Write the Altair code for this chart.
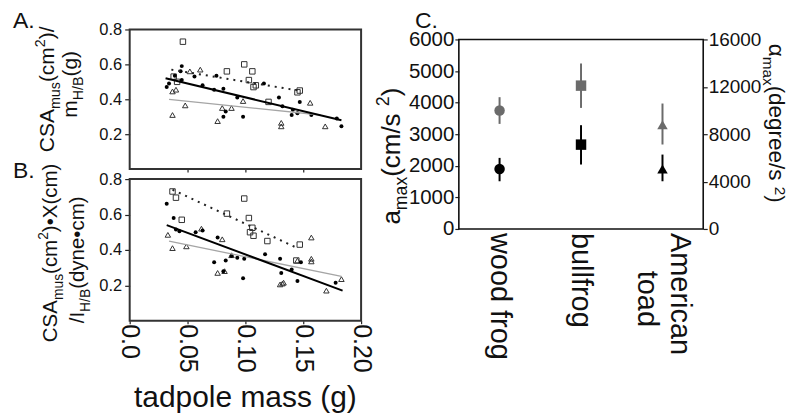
import altair as alt
import pandas as pd

FONT = "Liberation Sans"
INK = "#111111"
GRAY = "#6b6b6b"

# ---------------- Panel A : CSA_mus / m_H/B  vs tadpole mass ----------------
A_wood_x = [0.045, 0.044, 0.039, 0.032, 0.045, 0.056, 0.063, 0.075, 0.073, 0.081, 0.081, 0.083, 0.098,
            0.093, 0.116, 0.129, 0.132, 0.141, 0.147, 0.145, 0.179, 0.183, 0.157, 0.140, 0.034]
A_wood_y = [0.59, 0.56, 0.535, 0.47, 0.51, 0.53, 0.48, 0.535, 0.455, 0.46, 0.30, 0.33, 0.30,
            0.41, 0.49, 0.41, 0.36, 0.34, 0.385, 0.32, 0.29, 0.245, 0.31, 0.31, 0.49]
A_bull_x = [0.046, 0.038, 0.041, 0.084, 0.099, 0.106, 0.103, 0.107, 0.109, 0.120, 0.145, 0.147]
A_bull_y = [0.73, 0.53, 0.50, 0.56, 0.60, 0.56, 0.51, 0.47, 0.48, 0.385, 0.44, 0.45]
A_toad_x = [0.037, 0.048, 0.061, 0.080, 0.076, 0.088, 0.131, 0.131, 0.037, 0.040, 0.156, 0.169, 0.098, 0.052]
A_toad_y = [0.31, 0.365, 0.57, 0.35, 0.275, 0.35, 0.265, 0.245, 0.445, 0.455, 0.38, 0.245, 0.39, 0.56]
A_fit_wood = ([0.031, 0.183], [0.52, 0.28])
A_fit_bull = ([0.036, 0.146], [0.57, 0.45])
A_fit_toad = ([0.034, 0.165], [0.40, 0.31])

# ---------------- Panel B : CSA_mus*X / I_H/B  vs tadpole mass ----------------
B_wood_x = [0.032, 0.038, 0.040, 0.043, 0.057, 0.063, 0.076, 0.073, 0.083, 0.081, 0.088, 0.093, 0.099,
            0.098, 0.117, 0.130, 0.131, 0.140, 0.145, 0.148, 0.178]
B_wood_y = [0.66, 0.58, 0.515, 0.505, 0.50, 0.51, 0.47, 0.33, 0.34, 0.28, 0.365, 0.355, 0.35,
            0.24, 0.375, 0.35, 0.27, 0.29, 0.225, 0.33, 0.215]
B_bull_x = [0.037, 0.040, 0.099, 0.084, 0.103, 0.106, 0.107, 0.119, 0.147, 0.045, 0.144, 0.104]
B_bull_y = [0.73, 0.695, 0.69, 0.605, 0.58, 0.525, 0.48, 0.45, 0.43, 0.57, 0.34, 0.50]
B_toad_x = [0.033, 0.037, 0.049, 0.062, 0.080, 0.076, 0.082, 0.132, 0.133, 0.157, 0.157, 0.157, 0.170,
            0.183, 0.130, 0.088, 0.145]
B_toad_y = [0.485, 0.41, 0.42, 0.52, 0.46, 0.27, 0.28, 0.21, 0.215, 0.47, 0.35, 0.335, 0.17,
            0.235, 0.205, 0.37, 0.34]
B_fit_wood = ([0.032, 0.184], [0.54, 0.17])
B_fit_bull = ([0.037, 0.145], [0.74, 0.41])
B_fit_toad = ([0.034, 0.183], [0.45, 0.25])

mass_ticks = [0.0, 0.05, 0.10, 0.15, 0.20]
ratio_ticks = [0.2, 0.4, 0.6, 0.8]

# ---------------- Panel C : max accelerations ----------------
species = ["wood frog", "bullfrog", "American toad"]
label_line1 = ["wood frog", "bullfrog", "American"]
label_line2 = ["", "", "toad"]
a_max = [1900, 2670, 1900]
a_lo = [1510, 2040, 1510]
a_hi = [2250, 3285, 2355]
alpha_max = [10000, 12100, 8800]
alpha_lo = [8870, 10220, 7130]
alpha_hi = [11125, 13970, 10590]
a_ticks = [0, 1000, 2000, 3000, 4000, 5000, 6000]
alpha_ticks = [0, 4000, 8000, 12000, 16000]

# ---------------- helpers ----------------
W = {' ': .278, '(': .333, ')': .333, '/': .278, '.': .278, '\u2022': .35,
     'A': .667, 'B': .667, 'C': .722, 'H': .722, 'I': .278, 'S': .667, 'X': .667,
     'a': .556, 'c': .5, 'd': .556, 'e': .556, 'g': .556, 'm': .833, 'n': .556, 'r': .333,
     's': .5, 'u': .556, 'x': .5, 'y': .5, 'o': .556, 't': .278, '\u03b1': .578}


def tw(s, size):
    return sum(W.get(c, .556) for c in s) * size


ONE = alt.Data(values=[{}])


def rich(pieces, size, angle, x, y_center, sup=0.42):
    items, off = [], 0.0
    for text, kind in pieces:
        fs = size if kind == 'n' else round(size * 0.68, 1)
        shift = {'n': 0.0, 'sub': size * 0.28, 'sup': -size * sup}[kind]
        items.append((text, fs, off, shift))
        off += tw(text, fs)
    y0 = y_center + off / 2 if angle == 270 else y_center - off / 2
    return [alt.Chart(ONE).mark_text(text=t, font=FONT, fontSize=fs, angle=angle, align='left',
                                     baseline='alphabetic', dx=d, dy=s, color=INK)
            .encode(x=alt.value(x), y=alt.value(y0)) for t, fs, d, s in items]


def label(text, x, y, size, align='left'):
    return alt.Chart(ONE).mark_text(text=text, font=FONT, fontSize=size, align=align,
                                    baseline='alphabetic', color=INK).encode(x=alt.value(x), y=alt.value(y))


def frame(w, y0, y1, color, sw):
    return alt.Chart(ONE).mark_rect(fillOpacity=0, stroke=color, strokeWidth=sw).encode(
        x=alt.value(0), x2=alt.value(w), y=alt.value(y0), y2=alt.value(y1))


def scatter_panel(wx, wy, bx, by, tx, ty, fw, fb, ft, xaxis, height, extra):
    xs = alt.Scale(domain=[0, 0.2], nice=False, zero=False)
    ys = alt.Scale(domain=[0, 0.8], nice=False, zero=False)
    yaxis = alt.Axis(values=ratio_ticks, format='.1f', labelFontSize=16.5, tickSize=5, labelPadding=3,
                     title=None, domain=False, grid=False, labelFlush=False)
    X = alt.X('x:Q', scale=xs, axis=xaxis)
    Y = alt.Y('y:Q', scale=ys, axis=yaxis)

    def df(x, y):
        return pd.DataFrame({'x': x, 'y': y})

    layers = [
        alt.Chart(df(tx, ty)).mark_point(shape='triangle-up', size=30, filled=False, color='#333333',
                                         strokeWidth=1, opacity=1).encode(x=X, y=Y),
        alt.Chart(df(bx, by)).mark_point(shape='square', size=30, filled=False, color='#333333',
                                         strokeWidth=1, opacity=1).encode(x=X, y=Y),
        alt.Chart(df(wx, wy)).mark_circle(size=16, color='#000000', opacity=1).encode(x=X, y=Y),
        alt.Chart(df(*ft)).mark_line(color='#a5a5a5', strokeWidth=1.3).encode(x=X, y=Y),
        alt.Chart(df(*fb)).mark_line(color='#222222', strokeWidth=2, strokeDash=[2, 5]).encode(x=X, y=Y),
        alt.Chart(df(*fw)).mark_line(color='#000000', strokeWidth=2).encode(x=X, y=Y),
        frame(232, 0, height, '#333333', 2),
    ]
    return alt.layer(*layers, *extra).properties(width=232, height=height)


# ---------------- Panel A ----------------
axA = alt.Axis(values=[0.05, 0.10, 0.15], labels=False, tickSize=3, title=None, domain=False, grid=False)
extraA = [label("A.", -117, -1, 23)]
extraA += rich([("CSA", 'n'), ("mus", 'sub'), ("(cm", 'n'), ("2", 'sup'), (")/", 'n')], 21, 270, -76, 60)
extraA += rich([("m", 'n'), ("H/B", 'sub'), ("(g)", 'n')], 21, 270, -53, 55)
panelA = scatter_panel(A_wood_x, A_wood_y, A_bull_x, A_bull_y, A_toad_x, A_toad_y,
                       A_fit_wood, A_fit_bull, A_fit_toad, axA, 140, extraA)

# ---------------- Panel B ----------------
axB = alt.Axis(values=mass_ticks, labelExpr="datum.value == 0 ? '0.0' : format(datum.value, '.2f')",
               labelAngle=90, labelAlign='left', labelBaseline='middle', labelFontSize=25,
               tickSize=3, labelPadding=0, title=None, domain=False, grid=False,
               labelFlush=False, labelOverlap=False, labelBound=False)
extraB = [label("B.", -117, -1, 23), label("tadpole mass (g)", 116, 229, 30, align='center')]
extraB += rich([("CSA", 'n'), ("mus", 'sub'), ("(cm", 'n'), ("2", 'sup'), (")\u2022X(cm)", 'n')],
               20.5, 270, -73, 74)
extraB += rich([("/I", 'n'), ("H/B", 'sub'), ("(dyne\u2022cm)", 'n')], 20.5, 270, -46, 81)
panelB = scatter_panel(B_wood_x, B_wood_y, B_bull_x, B_bull_y, B_toad_x, B_toad_y,
                       B_fit_wood, B_fit_bull, B_fit_toad, axB, 142, extraB)

# ---------------- Panel C ----------------
CH = 200   # view height; the plot box itself spans 10..200 inside it
cdf = pd.DataFrame({'species': species, 'a': a_max, 'a_lo': a_lo, 'a_hi': a_hi,
                    'al': alpha_max, 'al_lo': alpha_lo, 'al_hi': alpha_hi,
                    'l1': label_line1, 'l2': label_line2})
XC = alt.X('species:N', scale=alt.Scale(type='point', domain=species, padding=0.5), axis=None)
SH = alt.Shape('species:N', scale=alt.Scale(domain=species, range=['circle', 'square', 'triangle-up']),
               legend=None)
axL = alt.Axis(values=a_ticks, format='d', labelFontSize=20.5, tickSize=4, labelPadding=1, title=None,
               domain=False, grid=False, labelFlush=False)
axR = alt.Axis(orient='right', values=alpha_ticks, format='d', labelFontSize=19, tickSize=4,
               labelPadding=1, title=None, domain=False, grid=False, labelFlush=False, labelColor=INK)
scA = alt.Scale(domain=[0, 6000], range=[CH, 10], nice=False, zero=True)
scG = alt.Scale(domain=[0, 16000], range=[CH, 10], nice=False, zero=True)

base = alt.Chart(cdf)
left_layer = alt.layer(
    base.mark_rule(color='#000000', strokeWidth=2).encode(x=XC, y=alt.Y('a_lo:Q', scale=scA, axis=axL),
                                                          y2='a_hi:Q'),
    base.mark_point(filled=True, size=110, color='#000000', opacity=1).encode(
        x=XC, y=alt.Y('a:Q', scale=scA, axis=axL), shape=SH),
)
right_layer = alt.layer(
    base.mark_rule(color=GRAY, strokeWidth=2).encode(x=XC, y=alt.Y('al_lo:Q', scale=scG, axis=axR),
                                                     y2='al_hi:Q'),
    base.mark_point(filled=True, size=110, color=GRAY, opacity=1).encode(
        x=XC, y=alt.Y('al:Q', scale=scG, axis=axR), shape=SH),
)
toad_dx = (tw("American", 29) - tw("toad", 29)) / 2
cat1 = base.transform_filter("datum.l2 == ''").mark_text(
    font=FONT, fontSize=29, angle=90, align='left', baseline='middle', color=INK).encode(
    x=XC, y=alt.value(CH + 4), text='l1:N')
cat2 = base.transform_filter("datum.l2 != ''").mark_text(
    font=FONT, fontSize=29, angle=90, align='left', baseline='middle', color=INK, dy=-18).encode(
    x=XC, y=alt.value(CH + 4), text='l1:N')
cat3 = base.transform_filter("datum.l2 != ''").mark_text(
    font=FONT, fontSize=29, angle=90, align='left', baseline='middle', color=INK, dy=16, dx=toad_dx).encode(
    x=XC, y=alt.value(CH + 4), text='l2:N')
extraC = [frame(245, 10, CH, '#111111', 1.6), label("C.", -44, -1, 23), cat1, cat2, cat3]
extraC += rich([("a", 'n'), ("max", 'sub'), (" (cm/s", 'n'), ("2", 'sup'), (")", 'n')], 26, 270, -59, 127)
extraC += rich([("\u03b1", 'n'), ("max", 'sub'), (" (degree/s", 'n'), ("2", 'sup'), (")", 'n')],
               22.5, 90, 311, 94, sup=0.26)

panelC = alt.layer(left_layer, right_layer, *extraC).resolve_scale(y='independent').properties(
    width=245, height=CH)

chart = alt.hconcat(
    alt.vconcat(panelA, panelB, spacing=10, bounds='flush'),
    panelC,
    spacing=0,
    padding={'left': 4, 'top': 1, 'right': 0, 'bottom': 0},
).configure(font=FONT).configure_view(stroke='transparent').configure_axis(
    labelFont=FONT, labelColor=INK, tickColor='#222222', tickWidth=1.2)

chart.save("out.html", embed_options={"renderer": "svg", "actions": False})
